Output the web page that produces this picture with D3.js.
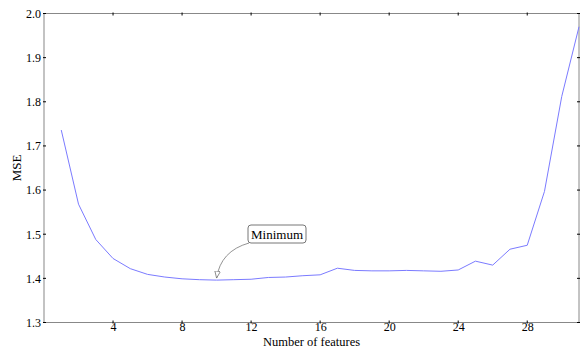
<!DOCTYPE html>
<html lang="en">
	<head>
		<meta charset="utf-8">
		<title>MSE vs number of features</title>
		<script src="https://d3js.org/d3.v7.min.js"></script>
		<style type="text/css">
			body { margin: 0; background: #fff; }
			svg text { font-family: "Liberation Serif", "Times New Roman", "DejaVu Serif", serif !important; fill: #000; }
		</style>
	</head>
	<body>
		<script type="text/javascript">

			//Data
			var features = [1, 2, 3, 4, 5, 6, 7, 8, 9, 10, 11, 12, 13, 14, 15, 16,
				17, 18, 19, 20, 21, 22, 23, 24, 25, 26, 27, 28, 29, 30, 31];
			var mse = [1.736, 1.568, 1.488, 1.445, 1.422, 1.409, 1.403, 1.399, 1.397, 1.396,
				1.397, 1.398, 1.402, 1.403, 1.406, 1.408, 1.423, 1.418, 1.417, 1.417,
				1.418, 1.417, 1.416, 1.419, 1.439, 1.430, 1.466, 1.475, 1.597, 1.812, 1.970];
			var xTicks = [4, 8, 12, 16, 20, 24, 28];
			var yTicks = [1.3, 1.4, 1.5, 1.6, 1.7, 1.8, 1.9, 2.0];
			var minLabel = "Minimum";
			var minFeature = 10;

			//Width and height
			var w = 581;
			var h = 347;
			var margin = {top: 13.5, right: 2, bottom: 24.5, left: 44};

			var x = d3.scaleLinear().domain([0, 31]).range([margin.left, w - margin.right]);
			var y = d3.scaleLinear().domain([1.3, 2.0]).range([h - margin.bottom, margin.top]);

			var svg = d3.select("body")
						.append("svg")
						.attr("width", w)
						.attr("height", h);

			var defs = svg.append("defs");
			defs.append("marker")
				.attr("id", "head")
				.attr("viewBox", "0 0 10 10")
				.attr("refX", 10).attr("refY", 5)
				.attr("markerWidth", 7).attr("markerHeight", 7)
				.attr("markerUnits", "userSpaceOnUse")
				.attr("orient", "auto")
				.append("path")
				.attr("d", "M0,1 L10,5 L0,9 Z")
				.attr("fill", "#fff")
				.attr("stroke", "#666")
				.attr("stroke-width", 1);

			//Frame
			var x0 = x.range()[0], x1 = x.range()[1];
			var y0 = y.range()[0], y1 = y.range()[1];
			svg.append("rect")
				.attr("x", x0).attr("y", y1)
				.attr("width", x1 - x0).attr("height", y0 - y1)
				.attr("fill", "none")
				.attr("stroke", "#888")
				.attr("stroke-width", 1);

			//Bottom and left axes with labels
			var xAxis = d3.axisBottom(x).tickValues(xTicks).tickSize(0).tickPadding(0);
			var yAxis = d3.axisLeft(y).tickValues(yTicks).tickSize(0).tickPadding(3)
				.tickFormat(d3.format(".1f"));

			svg.append("g").attr("transform", "translate(0," + y0 + ")").call(xAxis)
				.attr("font-family", null)
				.call(function(g) { g.select(".domain").remove(); })
				.selectAll("text").style("font-size", "12px");
			svg.append("g").attr("transform", "translate(" + x0 + ",0)").call(yAxis)
				.attr("font-family", null)
				.call(function(g) { g.select(".domain").remove(); })
				.selectAll("text").style("font-size", "12px");

			//Small black ticks on all four sides
			var tk = svg.append("g").attr("stroke", "#000").attr("stroke-width", 1);
			xTicks.forEach(function(t) {
				tk.append("line").attr("x1", x(t)).attr("x2", x(t)).attr("y1", y0 - 2).attr("y2", y0 + 1);
				tk.append("line").attr("x1", x(t)).attr("x2", x(t)).attr("y1", y1 - 1).attr("y2", y1 + 2);
			});
			yTicks.forEach(function(t) {
				tk.append("line").attr("x1", x0 - 1).attr("x2", x0 + 2).attr("y1", y(t)).attr("y2", y(t));
				tk.append("line").attr("x1", x1 - 2).attr("x2", x1 + 1).attr("y1", y(t)).attr("y2", y(t));
			});

			//MSE line
			var line = d3.line()
				.x(function(d, i) { return x(features[i]); })
				.y(function(d) { return y(d); });
			svg.append("path")
				.datum(mse)
				.attr("d", line)
				.attr("fill", "none")
				.attr("stroke", "#7b7bff")
				.attr("stroke-width", 1);

			//Axis titles
			svg.append("text")
				.attr("x", (x0 + x1) / 2)
				.attr("y", h - 1.5)
				.attr("text-anchor", "middle")
				.style("font-size", "12.5px")
				.text("Number of features");
			svg.append("text")
				.attr("transform", "translate(21," + ((y0 + y1) / 2) + ") rotate(-90)")
				.attr("text-anchor", "middle")
				.style("font-size", "13px")
				.text("MSE");

			//Minimum annotation
			var mi = features.indexOf(minFeature);
			var tipX = x(minFeature), tipY = y(mse[mi]) - 2;
			var bx = 248, by = 225, bw = 58, bh = 18;
			svg.append("path")
				.attr("d", "M" + (bx + 1) + "," + (by + bh) + " Q" + (tipX + 4) + "," + (by + bh + 8) + " " + tipX + "," + tipY)
				.attr("fill", "none")
				.attr("stroke", "#777")
				.attr("stroke-width", 0.8)
				.attr("marker-end", "url(#head)");
			svg.append("rect")
				.attr("x", bx).attr("y", by)
				.attr("width", bw).attr("height", bh)
				.attr("rx", 3).attr("ry", 3)
				.attr("fill", "#fff")
				.attr("stroke", "#777")
				.attr("stroke-width", 1);
			svg.append("text")
				.attr("x", bx + bw / 2)
				.attr("y", by + bh / 2 + 4.5)
				.attr("text-anchor", "middle")
				.style("font-size", "13px")
				.text(minLabel);
		</script>
	</body>
</html>
